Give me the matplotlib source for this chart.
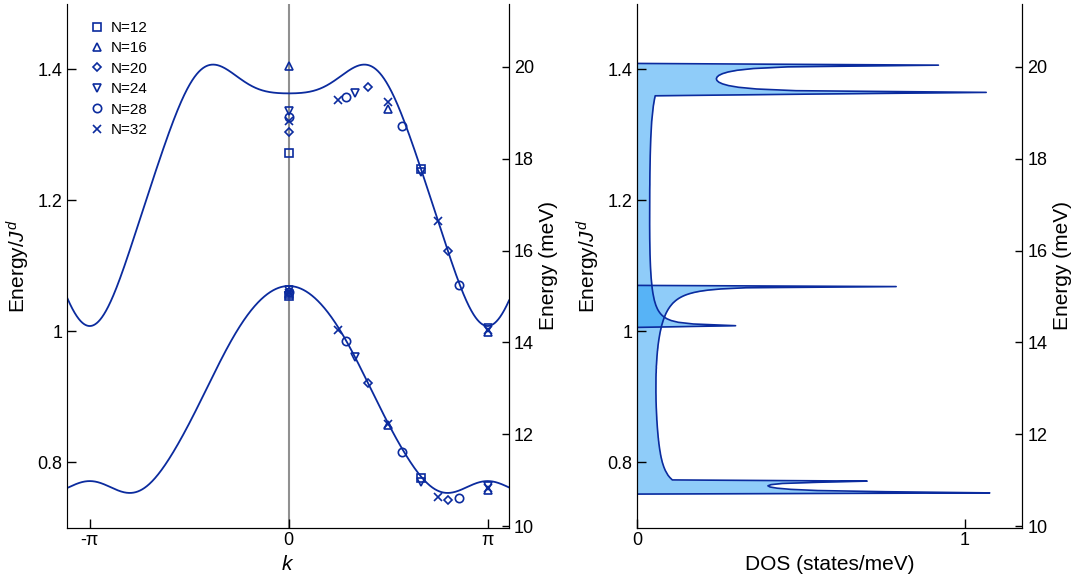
import numpy as np
import matplotlib
matplotlib.use('Agg')
import matplotlib.pyplot as plt

plt.rcParams['font.family'] = ['Liberation Sans', 'DejaVu Sans']
plt.rcParams['mathtext.fontset'] = 'custom'
plt.rcParams['mathtext.rm'] = 'Liberation Sans'
plt.rcParams['mathtext.it'] = 'Liberation Sans:italic'

J_MEV = 14.25  # meV per J^d

# cosine-series coefficients of the two dispersion branches (J^d)
coef_lo = [0.88497, 0.16250, 0.02967, -0.01133, 0.00440, -0.00225, 0.00075]
coef_up = [1.27885, 0.16582, -0.09413, 0.00674, 0.00130, 0.00503, -0.00082]

# finite size cluster energies (k in units of pi)
sizes = [12, 16, 20, 24, 28, 32]
k_12 = [0, 2/3]
up_12 = [1.272, 1.248]
lo_12 = [1.054, 0.776]
k_16 = [0, 0.5, 1]
up_16 = [1.405, 1.339, 0.999]
lo_16 = [1.057, 0.857, 0.758]
k_20 = [0, 0.4, 0.8]
up_20 = [1.304, 1.373, 1.122]
lo_20 = [1.060, 0.921, 0.742]
k_24 = [0, 1/3, 2/3, 1]
up_24 = [1.336, 1.363, 1.242, 1.004]
lo_24 = [1.062, 0.961, 0.769, 0.764]
k_28 = [0, 2/7, 4/7, 6/7]
up_28 = [1.327, 1.358, 1.313, 1.071]
lo_28 = [1.059, 0.984, 0.816, 0.745]
k_32 = [0, 0.25, 0.5, 0.75, 1]
up_32 = [1.321, 1.353, 1.349, 1.168, 1.001]
lo_32 = [1.058, 1.002, 0.858, 0.746, 0.761]


def band(c, k):
    return sum(cn * np.cos(n * k) for n, cn in enumerate(c))


# DOS from a histogram of E(k) over the zone; bin width / offset per branch
Nk = 200000
kgrid = np.linspace(-np.pi, np.pi, Nk, endpoint=False)


def dos_hist(Ek, w, off):
    edges = np.arange(0.70 + off * w, 1.50 + w, w)
    centers = 0.5 * (edges[1:] + edges[:-1])
    cnt, _ = np.histogram(Ek, bins=edges)
    return centers, cnt, 0.5 * cnt / Nk / (w * J_MEV)


line_col = '#0b2b9e'
fill_col = '#219bf5'

fig = plt.figure(figsize=(10.78, 5.76), dpi=100)
ax1 = fig.add_axes([0.0624, 0.0842, 0.4097, 0.9097])
ax2 = fig.add_axes([0.5912, 0.0842, 0.3573, 0.9097])

# left panel: dispersion
kk = np.linspace(-1.12 * np.pi, 1.12 * np.pi, 2000)
ax1.axvline(0, color='#909090', lw=1.5, zorder=1)
ax1.plot(kk, band(coef_lo, kk), color=line_col, lw=1.3, zorder=2)
ax1.plot(kk, band(coef_up, kk), color=line_col, lw=1.3, zorder=2)

marks = ['s', '^', 'D', 'v', 'o', 'x']
msz = [5.5, 6, 4.5, 6, 6, 6]
ks = [k_12, k_16, k_20, k_24, k_28, k_32]
ups = [up_12, up_16, up_20, up_24, up_28, up_32]
los = [lo_12, lo_16, lo_20, lo_24, lo_28, lo_32]
for N, m, s, kv, u, l in zip(sizes, marks, msz, ks, ups, los):
    kv = np.pi * np.array(kv)
    ax1.plot(kv, u, ls='none', marker=m, ms=s, mfc='none', mec=line_col,
             mew=1.2, label='N=%d' % N, zorder=3)
    ax1.plot(kv, l, ls='none', marker=m, ms=s, mfc='none', mec=line_col,
             mew=1.2, zorder=3)

ax1.set_xlim(-1.113 * np.pi, 1.107 * np.pi)
ax1.set_ylim(0.7, 1.5)
ax1.set_xticks([-np.pi, 0, np.pi])
ax1.set_xticklabels(['-\u03c0', '0', '\u03c0'])
ax1.set_yticks([0.8, 1.0, 1.2, 1.4])
ax1.set_yticklabels(['0.8', '1', '1.2', '1.4'])
ax1.set_xlabel('$k$', fontsize=15, labelpad=4)
ax1.set_ylabel('Energy/$J^d$', fontsize=15)
ax1.legend(loc='upper left', bbox_to_anchor=(0.015, 0.993), frameon=False,
           fontsize=11, labelspacing=0.42, handletextpad=0.3, handlelength=1.2)

# right panel: density of states
for c, w, off in ((coef_lo, 0.0018, 0.85), (coef_up, 0.0026, 0.0)):
    centers, cnt, dos = dos_hist(band(c, kgrid), w, off)
    nz = np.nonzero(cnt)[0]
    i0, i1 = nz[0] - 1, nz[-1] + 2
    ax2.fill_betweenx(centers[i0:i1], 0, dos[i0:i1], color=fill_col, alpha=0.5, lw=0)
    ax2.plot(dos[i0:i1], centers[i0:i1], color=line_col, lw=1.2)

ax2.set_xlim(0, 1.175)
ax2.set_ylim(0.7, 1.5)
ax2.set_xticks([0, 1])
ax2.set_xticklabels(['0', '1'])
ax2.set_yticks([0.8, 1.0, 1.2, 1.4])
ax2.set_yticklabels(['0.8', '1', '1.2', '1.4'])
ax2.set_xlabel('DOS (states/meV)', fontsize=15, labelpad=4)
ax2.set_ylabel('Energy/$J^d$', fontsize=15)

# meV scale on the right of both panels
for ax in (ax1, ax2):
    ax.spines['top'].set_visible(False)
    ax.tick_params(direction='in', labelsize=13, length=6.5, width=1)
    tw = ax.twinx()
    tw.set_ylim(0.7 * J_MEV, 1.5 * J_MEV)
    tw.set_yticks([10, 12, 14, 16, 18, 20])
    tw.spines['top'].set_visible(False)
    tw.tick_params(direction='in', labelsize=13, length=5, width=1)
    tw.set_ylabel('Energy (meV)', fontsize=15)
ax1.spines['left'].set_color('#909090')

fig.savefig('out.png', dpi=100)
